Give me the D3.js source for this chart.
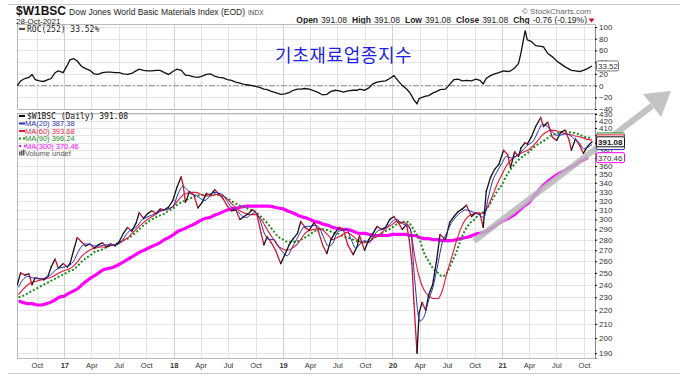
<!DOCTYPE html>
<html lang="en">
<head>
<meta charset="UTF-8">
<title>$W1BSC Dow Jones World Basic Materials</title>
<script src="https://d3js.org/d3.v7.min.js"></script>
<style>
    body{ margin:0; background:#fff; }
    svg text{ font-family: "Liberation Sans", Arial, sans-serif; }
    .mono{ font-family: "DejaVu Sans Mono", monospace; }
</style>
</head>
<body>
<svg width="683" height="377" id="canvas"></svg>
<script>
    // ---------------- data ----------------
    const priceDates = [
        "2016-07-28","2016-08-08","2016-08-22","2016-09-05","2016-09-15","2016-09-26","2016-10-10","2016-10-24",
        "2016-11-07","2016-11-18","2016-12-01","2016-12-12","2016-12-28",
        "2017-01-11","2017-01-20","2017-02-01","2017-02-13","2017-02-27","2017-03-13","2017-03-27","2017-04-10",
        "2017-04-24","2017-05-08","2017-05-22","2017-06-05","2017-06-19","2017-07-03","2017-07-17","2017-07-31",
        "2017-08-14","2017-08-28","2017-09-08","2017-09-22","2017-10-06","2017-10-20","2017-11-03","2017-11-17",
        "2017-12-01","2017-12-15","2017-12-29",
        "2018-01-12","2018-01-26","2018-02-02","2018-02-09","2018-02-23","2018-03-09","2018-03-23","2018-04-06",
        "2018-04-20","2018-05-04","2018-05-18","2018-06-01","2018-06-15","2018-06-29","2018-07-13","2018-07-27",
        "2018-08-10","2018-08-24","2018-09-07","2018-09-21","2018-10-05","2018-10-19","2018-10-29","2018-11-09",
        "2018-11-23","2018-12-07","2018-12-24",
        "2019-01-07","2019-01-21","2019-02-04","2019-02-18","2019-03-01","2019-03-15","2019-03-29","2019-04-15",
        "2019-04-29","2019-05-13","2019-05-27","2019-06-10","2019-06-24","2019-07-08","2019-07-22","2019-08-05",
        "2019-08-23","2019-09-06","2019-09-13","2019-09-30","2019-10-14","2019-10-28","2019-11-11","2019-11-25",
        "2019-12-09","2019-12-23",
        "2020-01-06","2020-01-20","2020-02-03","2020-02-17","2020-02-26","2020-03-06","2020-03-13","2020-03-23",
        "2020-03-30","2020-04-09","2020-04-21","2020-05-01","2020-05-14","2020-05-28","2020-06-08","2020-06-26",
        "2020-07-10","2020-07-24","2020-08-07","2020-08-21","2020-09-04","2020-09-21","2020-10-05","2020-10-19",
        "2020-10-30","2020-11-09","2020-11-23","2020-12-07","2020-12-21",
        "2021-01-06","2021-01-20","2021-01-29","2021-02-12","2021-02-25","2021-03-05","2021-03-19","2021-03-26",
        "2021-04-09","2021-04-23","2021-05-10","2021-05-19","2021-06-02","2021-06-18","2021-07-02","2021-07-16",
        "2021-07-30","2021-08-13","2021-08-20","2021-09-03","2021-09-17","2021-09-29","2021-10-13","2021-10-28"
    ];
    const priceVals = [
        240,250,248,249,240,246,245,244,
        247,255,262,254,258,
        255,258,270,282,278,274,276,272,
        275,277,273,276,274,278,286,292,
        288,296,307,301,306,309,306,311,
        310,313,320,
        335,347,336,318,330,326,312,318,
        328,326,332,327,322,314,309,310,
        300,303,306,310,306,287,275,283,
        277,270,258,
        266,275,281,286,298,292,289,297,
        288,275,267,280,287,292,289,275,
        266,274,284,270,280,286,293,290,
        292,300,
        303,297,290,295,280,258,225,190,
        218,226,220,232,240,262,285,280,
        297,303,308,311,315,303,307,306,
        292,330,346,356,362,
        380,374,358,378,372,383,390,388,
        398,412,425,412,418,397,393,404,
        407,393,380,395,386,376,385,391.08
    ];
    const rocVals = [
        0,8,12,14,19,10,8,7,
        10,12,22,25,22,
        35,44,46,42,33,29,26,20,
        19,22,23,23,22,22,20,19,
        21,25,28,26,25,25,26,26,
        22,19,24,
        28,26,22,18,17,15,14,16,
        19,20,16,14,13,10,9,6,
        4,2,1,0,-2,-4,-6,-7,
        -10,-12,-15,
        -14,-12,-8,-6,-6,-5,-6,-9,
        -12,-16,-15,-10,-8,-9,-11,-9,
        -8,-8,-6,-8,-4,3,6,7,
        8,12,
        17,8,0,-6,-11,-18,-25,-31,
        -22,-20,-18,-17,-13,-10,-7,-6,
        2,10,11,8,9,8,11,9,
        3,12,17,20,22,
        25,24,25,30,38,56,94,78,
        75,68,67,66,55,49,42,37,
        32,28,26,25,24,26,29,33.52
    ];

    // moving averages sampled on the 1st and 15th of each month, Aug 2016 .. Oct 2021, plus 28-Oct-2021
    const ma20 = [
        238,244,247,246,245,245,246,248,252,254,
        255,256,260,268,274,276,275,274,274,275,275,275,276,280,287,290,293,299,302,304,306,309,310,311,
        315,327,336,332,327,326,322,320,325,329,328,326,318,312,309,304,302,305,307,300,285,280,280,274,
        268,265,273,280,288,293,293,294,292,283,274,276,287,289,290,281,272,276,279,277,284,289,290,293,
        298,300,296,294,290,245,212,215,228,238,258,277,287,296,303,307,310,309,307,305,302,322,343,353,
        364,372,370,372,376,382,388,392,405,415,412,406,400,400,402,400,394,390,382,384,387.38
    ];
    const ma60 = [
        232,236,240,242,243,244,245,246,248,250,
        252,253,256,260,265,268,271,272,273,273,274,275,276,279,282,286,291,295,299,302,305,308,310,311,
        314,320,326,328,329,329,327,325,325,326,327,325,321,316,311,308,306,305,305,302,294,287,280,274,
        271,270,272,275,280,286,289,290,291,289,284,280,282,284,287,285,281,278,277,278,282,284,288,292,
        295,298,297,296,290,265,245,236,231,229,229,235,250,262,278,290,300,304,306,307,306,314,326,338,
        350,360,368,372,375,378,381,386,393,400,405,407,406,404,402,401,399,398,396,394,393.68
    ];
    const ma90 = [
        230,231,233,235,237,239,241,243,245,247,
        249,251,253,256,260,263,266,269,270,272,274,275,277,279,281,284,288,292,296,299,302,304,306,309,
        312,316,319,321,323,325,326,326,327,327,326,324,322,319,316,314,312,310,308,304,299,294,288,283,
        280,278,278,278,280,282,285,288,290,290,289,287,286,284,282,281,279,278,278,279,282,284,287,289,
        292,295,297,298,295,288,280,268,260,254,250,247,250,258,268,279,290,296,300,305,308,313,322,330,
        338,348,357,364,369,373,378,383,388,391,396,400,402,404,405,404,403,401,398,397,396.24
    ];
    const ma300 = [
        227,226,225,225,224,224,225,226,228,230,
        231,233,235,237,240,243,246,248,251,253,254,255,257,259,262,264,267,269,271,273,275,277,280,282,
        285,288,290,292,294,296,299,301,302,304,306,308,310,311,312,313,314,314,314,314,314,314,313,312,
        311,309,307,305,303,302,300,298,297,295,294,292,291,290,290,289,287,286,286,285,284,284,284,284,
        285,285,285,285,284,284,282,281,281,280,280,279,279,279,280,281,282,283,285,286,287,289,292,295,
        298,300,303,306,310,314,318,324,330,336,341,345,349,352,355,358,361,365,368,370.46
    ];

    const xTickDates = ["2016-10-01","2017-01-01","2017-04-01","2017-07-01","2017-10-01","2018-01-01","2018-04-01",
        "2018-07-01","2018-10-01","2019-01-01","2019-04-01","2019-07-01","2019-10-01","2020-01-01","2020-04-01",
        "2020-07-01","2020-10-01","2021-01-01","2021-04-01","2021-07-01","2021-10-01"];
    const xTickLabels = ["Oct","17","Apr","Jul","Oct","18","Apr","Jul","Oct","19","Apr","Jul","Oct","20","Apr",
        "Jul","Oct","21","Apr","Jul","Oct"];
    const priceTicks = [190,200,210,220,230,240,250,260,270,280,290,300,310,320,330,340,350,360,370,380,390,400,410,420,430];
    const rocTicks = [-40,-20,0,20,40,60,80,100];

    // ---------------- setup ----------------
    const parse = d3.timeParse("%Y-%m-%d");
    const svg = d3.select("svg");

    const maDates = [];
    d3.timeMonth.range(new Date(2016, 7, 1), new Date(2021, 10, 1)).forEach(function (m) {
        maDates.push(m);
        maDates.push(new Date(m.getFullYear(), m.getMonth(), 15));
    });
    maDates.push(parse("2021-10-28"));

    const left = 17, right = 595;
    const rocTop = 24, rocBottom = 109;
    const mainTop = 113, mainBottom = 358;

    const x = d3.scaleTime()
        .domain([parse("2016-07-27"), parse("2021-10-28")])
        .range([left, 592]);
    const yMain = d3.scaleLog().domain([186.9, 431.5]).range([mainBottom, mainTop]);
    const yRoc = d3.scaleLinear().domain([-40, 100]).range([109, 27]);

    // clip paths
    const defs = svg.append("defs");
    defs.append("clipPath").attr("id", "clipRoc").append("rect")
        .attr("x", left).attr("y", rocTop).attr("width", right - left).attr("height", rocBottom - rocTop);
    defs.append("clipPath").attr("id", "clipMain").append("rect")
        .attr("x", left).attr("y", mainTop).attr("width", right - left).attr("height", mainBottom - mainTop);

    // outer frame lines
    svg.append("line").attr("x1", 8).attr("x2", 680).attr("y1", 4.5).attr("y2", 4.5).attr("stroke", "#c8c8c8");
    svg.append("line").attr("x1", 8).attr("x2", 680).attr("y1", 373.5).attr("y2", 373.5).attr("stroke", "#c8c8c8");

    // ---------------- header ----------------
    const head = svg.append("text").attr("x", 16).attr("y", 15);
    head.append("tspan").attr("font-size", 12).attr("font-weight", "bold").attr("fill", "#111").text("$W1BSC");
    head.append("tspan").attr("dx", 3).attr("font-size", 8.5).attr("fill", "#222").text("Dow Jones World Basic Materials Index (EOD)");
    head.append("tspan").attr("dx", 3).attr("font-size", 6.5).attr("fill", "#444").text("INDX");
    svg.append("text").attr("x", 16).attr("y", 23.5).attr("font-size", 8).attr("fill", "#222").text("28-Oct-2021");

    svg.append("text").attr("x", 591).attr("y", 14).attr("text-anchor", "end")
        .attr("font-size", 8).attr("fill", "#666").text("\u00a9 StockCharts.com");
    const quote = svg.append("text").attr("x", 587).attr("y", 23).attr("text-anchor", "end").attr("font-size", 8.5).attr("fill", "#222");
    [["Open", "391.08"], ["High", "391.08"], ["Low", "391.08"], ["Close", "391.08"], ["Chg", "-0.76 (-0.19%)"]].forEach(function (p, i) {
        quote.append("tspan").attr("dx", i ? 5 : 0).attr("font-weight", "bold").text(p[0]);
        quote.append("tspan").attr("dx", 3).text(p[1]);
    });
    svg.append("path").attr("d", "M588.5,18.5 L594.5,18.5 L591.5,22.5 Z").attr("fill", "#c8102e");

    // ---------------- grid + frames ----------------
    function drawPanel(top, bottom, yScale, hTicks, clipId) {
        const g = svg.append("g");
        g.selectAll(".hgrid").data(hTicks).join("line")
            .attr("x1", left).attr("x2", right)
            .attr("y1", d => Math.round(yScale(d)) + 0.5).attr("y2", d => Math.round(yScale(d)) + 0.5)
            .attr("stroke", "#e6e6e6");
        g.selectAll(".vgrid").data(xTickDates).join("line")
            .attr("x1", d => Math.round(x(parse(d))) + 0.5).attr("x2", d => Math.round(x(parse(d))) + 0.5)
            .attr("y1", top).attr("y2", bottom)
            .attr("stroke", (d, i) => /^\d/.test(xTickLabels[i]) ? "#cfcfcf" : "#e2e2e2");
        g.append("rect").attr("x", left + 0.5).attr("y", top + 0.5)
            .attr("width", right - left).attr("height", bottom - top)
            .attr("fill", "none").attr("stroke", "#b8b8b8");
        return svg.append("g").attr("clip-path", `url(#${clipId})`);
    }

    const rocG = drawPanel(rocTop, rocBottom, yRoc, rocTicks, "clipRoc");
    const mainG = drawPanel(mainTop, mainBottom, yMain, priceTicks, "clipMain");

    // ---------------- ROC panel ----------------
    rocG.append("line").attr("x1", left).attr("x2", right)
        .attr("y1", yRoc(0)).attr("y2", yRoc(0))
        .attr("stroke", "#999").attr("stroke-dasharray", "6,2,2,2");

    const rocData = priceDates.map((d, i) => ({date: parse(d), v: rocVals[i]}));
    rocG.append("path").datum(rocData)
        .attr("d", d3.line().x(d => x(d.date)).y(d => yRoc(d.v)))
        .attr("fill", "none").attr("stroke", "#111").attr("stroke-width", 1.3);

    svg.append("g").attr("transform", `translate(${right},0)`)
        .call(d3.axisRight(yRoc).tickValues(rocTicks).tickSize(2).tickPadding(2))
        .call(g => g.select(".domain").attr("stroke", "#888"))
        .call(g => g.selectAll("text").attr("font-size", 8).attr("fill", "#333"));

    const rl = svg.append("g");
    rl.append("line").attr("x1", 19).attr("x2", 25).attr("y1", 29).attr("y2", 29).attr("stroke", "#111").attr("stroke-width", 1.5);
    rl.append("text").attr("class", "mono").attr("x", 27).attr("y", 32).attr("font-size", 8).attr("fill", "#222").text("ROC(252) 33.52%");

    // ---------------- main panel ----------------
    function maSeries(vals) {
        return maDates.map((d, i) => ({date: d, v: vals[i]}));
    }
    const mLine = d3.line().curve(d3.curveMonotoneX).x(d => x(d.date)).y(d => yMain(d.v));

    mainG.append("path").datum(maSeries(ma300)).attr("d", mLine)
        .attr("fill", "none").attr("stroke", "#ff00ff").attr("stroke-width", 3.2);
    mainG.append("path").datum(maSeries(ma90)).attr("d", mLine)
        .attr("fill", "none").attr("stroke", "#1e8b1e").attr("stroke-width", 2).attr("stroke-dasharray", "2,2");
    mainG.append("path").datum(maSeries(ma60)).attr("d", mLine)
        .attr("fill", "none").attr("stroke", "#e8173b").attr("stroke-width", 1.1);

    // price: up moves black, down moves red
    const priceData = priceDates.map((d, i) => ({date: parse(d), v: priceVals[i]}));
    mainG.selectAll(".seg").data(d3.pairs(priceData)).join("line")
        .attr("x1", d => x(d[0].date)).attr("y1", d => yMain(d[0].v))
        .attr("x2", d => x(d[1].date)).attr("y2", d => yMain(d[1].v))
        .attr("stroke", d => d[1].v < d[0].v ? "#d11131" : "#111")
        .attr("stroke-width", 1.3).attr("stroke-linecap", "round");

    mainG.append("path").datum(maSeries(ma20)).attr("d", mLine)
        .attr("fill", "none").attr("stroke", "#2430b0").attr("stroke-width", 1);

    svg.append("g").attr("transform", `translate(${right},0)`)
        .call(d3.axisRight(yMain).tickValues(priceTicks).tickSize(2).tickPadding(2).tickFormat(d3.format("d")))
        .call(g => g.select(".domain").attr("stroke", "#888"))
        .call(g => g.selectAll("text").attr("font-size", 8).attr("fill", "#333"));

    // x axis labels
    svg.append("g").attr("transform", `translate(0,${mainBottom})`)
        .call(d3.axisBottom(x).tickValues(xTickDates.map(parse)).tickSize(0).tickPadding(5)
            .tickFormat((d, i) => xTickLabels[i]))
        .call(g => g.select(".domain").remove())
        .call(g => g.selectAll("text").attr("font-size", 7.5).attr("fill", "#333")
            .attr("font-weight", (d, i) => /^\d/.test(xTickLabels[i]) ? "bold" : "normal"));

    // legend
    const legend = [
        {label: "$W1BSC (Daily) 391.08", color: "#111", mono: true, dash: null},
        {label: "MA(20) 387.38", color: "#2430b0", dash: null},
        {label: "MA(60) 393.68", color: "#e8173b", dash: null},
        {label: "MA(90) 396.24", color: "#1e8b1e", dash: "2,2"},
        {label: "MA(300) 370.46", color: "#ff00ff", dash: "2,3"},
        {label: "Volume undef", color: "#555", dash: "vol"}
    ];
    const lg = svg.append("g");
    legend.forEach(function (d, i) {
        const yy = 116 + i * 7.5;
        if (d.dash === "vol") {
            [0, 2, 4].forEach((o, k) => lg.append("rect").attr("x", 19 + o).attr("y", yy - 2 - k).attr("width", 1.5)
                .attr("height", 4 + k).attr("fill", d.color));
        } else {
            lg.append("line").attr("x1", 19).attr("x2", 25).attr("y1", yy).attr("y2", yy)
                .attr("stroke", d.color).attr("stroke-width", 2)
                .attr("stroke-dasharray", d.dash);
        }
        lg.append("text").attr("class", d.mono ? "mono" : null)
            .attr("x", d.mono ? 27 : 25).attr("y", yy + 2.5)
            .attr("font-size", d.mono ? 8 : 7.5).attr("fill", d.color).text(d.label);
    });

    // ---------------- annotation ----------------
    svg.append("text").attr("x", 275).attr("y", 62)
        .style("font-family", "'Noto Sans CJK KR', sans-serif")
        .attr("font-size", 18).attr("letter-spacing", 0.6).attr("fill", "#1f1fe6").text("기초재료업종지수");

    const arrow = svg.append("g").attr("opacity", 0.85);
    arrow.append("line").attr("x1", 474).attr("y1", 241).attr("x2", 652).attr("y2", 106)
        .attr("stroke", "#b9b9b9").attr("stroke-width", 6);
    arrow.append("path").attr("d", "M671,91 L661,117 L643,94 Z").attr("fill", "#b9b9b9");

    // value tags on the right axis (drawn over the arrow)
    function tag(val, yScale, stroke, textColor, bold, w, showText) {
        const yy = yScale(val);
        const g = svg.append("g");
        g.append("rect").attr("x", right + 1.5).attr("y", yy - 5).attr("width", w).attr("height", 10)
            .attr("rx", 1.5).attr("fill", "#fff").attr("stroke", stroke);
        if (showText) {
            g.append("text").attr("x", right + 3).attr("y", yy + 3).attr("font-size", 8)
                .attr("font-weight", bold ? "bold" : "normal").attr("fill", textColor).text(d3.format(".2f")(val));
        }
    }
    tag(33.52, yRoc, "#777", "#333", false, 22, true);
    tag(396.24, yMain, "#1e8b1e", "#333", false, 28, false);
    tag(393.68, yMain, "#e8173b", "#333", false, 28, false);
    tag(387.38, yMain, "#2430b0", "#333", false, 28, false);
    tag(391.08, yMain, "#111", "#111", true, 28, true);
    tag(370.46, yMain, "#ff00ff", "#333", false, 28, true);
</script>
</body>
</html>
